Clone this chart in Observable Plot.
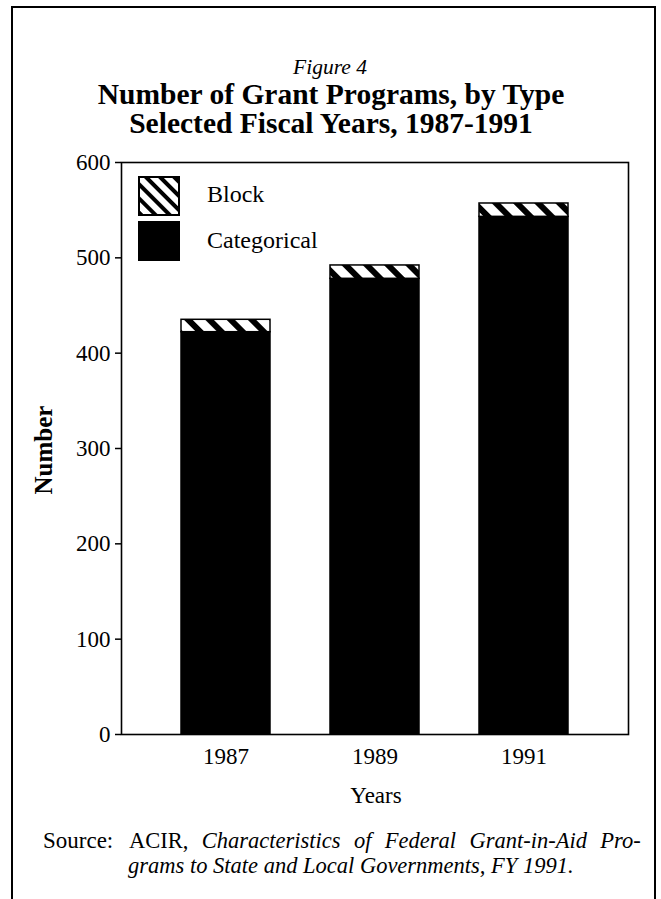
<!DOCTYPE html>
<html><head><meta charset="utf-8">
<script src="https://cdn.jsdelivr.net/npm/d3@7"></script>
<script src="https://cdn.jsdelivr.net/npm/@observablehq/plot@0.6"></script>
<style>
body{margin:0;background:#fff;}
#page{position:relative;width:661px;height:899px;overflow:hidden;background:#fff}
#page > svg{position:absolute;left:0;top:0}
#overlay{pointer-events:none}
</style>
</head><body>
<div id="page"></div>
<script>
// ---- data ----
const years = ["1987", "1989", "1991"];
const categorical = [422, 478, 543];
const block = [13, 14, 14];
const yTicks = [0, 100, 200, 300, 400, 500, 600];
const seriesNames = ["Block", "Categorical"];

const rows = years.map((y, i) => ({year: y, cat: categorical[i], total: categorical[i] + block[i]}));

const FONT = "'Liberation Serif', 'Times New Roman', serif";

const plot = Plot.plot({
  width: 661, height: 899,
  marginLeft: 121, marginRight: 33, marginTop: 162, marginBottom: 165,
  style: {fontFamily: FONT, fontSize: "23px", color: "black", background: "transparent", overflow: "visible"},
  x: {domain: years, padding: 0.4, label: null},
  y: {domain: [0, 600], label: null},
  marks: [
    Plot.barY(rows, {x: "year", y1: 0, y2: "cat", fill: "black", stroke: "black", strokeWidth: 1.5}),
    Plot.barY(rows, {x: "year", y1: "cat", y2: "total", fill: "url(#hatchBar)", stroke: "black", strokeWidth: 1.5}),
    Plot.frame({stroke: "black", strokeWidth: 1.6}),
    Plot.axisY({ticks: yTicks, tickSize: 6, tickPadding: 5, tickFormat: d => String(d), fontSize: 23, strokeWidth: 1.5, label: null}),
    Plot.axisX({tickSize: 0, tickPadding: 13, fontSize: 23, label: null})
  ]
});

// hatch pattern for the Block segments
const defs = d3.select(plot).insert("defs", ":first-child");
const pb = defs.append("pattern").attr("id", "hatchBar").attr("patternUnits", "userSpaceOnUse")
  .attr("width", 15).attr("height", 15).attr("patternTransform", "rotate(45)");
pb.append("rect").attr("width", 15).attr("height", 15).attr("fill", "white");
pb.append("rect").attr("width", 15).attr("height", 6).attr("fill", "black");

const page = document.getElementById("page");
page.appendChild(plot);

// ---- overlay: border, titles, axis labels, legend, source ----
const ov = d3.select(page).append("svg").attr("id", "overlay")
  .attr("width", 661).attr("height", 899)
  .style("font-family", FONT).style("fill", "black");

const od = ov.append("defs");
const pl = od.append("pattern").attr("id", "hatchLegend").attr("patternUnits", "userSpaceOnUse")
  .attr("width", 10).attr("height", 10).attr("patternTransform", "rotate(45)");
pl.append("rect").attr("width", 10).attr("height", 10).attr("fill", "white");
pl.append("rect").attr("width", 10).attr("height", 4).attr("fill", "black");

// page border (open at bottom)
ov.append("path").attr("d", "M12,905 V7 H655 V905").attr("fill", "none").attr("stroke", "black").attr("stroke-width", 2);

// titles
ov.append("text").attr("x", 330).attr("y", 74).attr("text-anchor", "middle")
  .style("font-style", "italic").style("font-size", "21.5px").text("Figure 4");
ov.append("text").attr("x", 331).attr("y", 104).attr("text-anchor", "middle")
  .style("font-weight", "bold").style("font-size", "29.5px").text("Number of Grant Programs, by Type");
ov.append("text").attr("x", 331).attr("y", 133).attr("text-anchor", "middle")
  .style("font-weight", "bold").style("font-size", "29.5px").text("Selected Fiscal Years, 1987-1991");

// axis labels
ov.append("text").attr("transform", "translate(52,450) rotate(-90)").attr("text-anchor", "middle")
  .style("font-weight", "bold").style("font-size", "25px").text("Number");
ov.append("text").attr("x", 376).attr("y", 803).attr("text-anchor", "middle")
  .style("font-size", "23px").text("Years");

// legend
const legendFills = ["url(#hatchLegend)", "black"];
const legendTops = [177, 222];
const legendBaselines = [202, 248];
seriesNames.forEach((name, i) => {
  ov.append("rect").attr("x", 139).attr("y", legendTops[i]).attr("width", 40).attr("height", 38)
    .attr("fill", legendFills[i]).attr("stroke", "black").attr("stroke-width", 2);
  ov.append("text").attr("x", 207).attr("y", legendBaselines[i]).style("font-size", "24px").text(name);
});

// source note (first line justified like the printed paragraph)
ov.append("text").attr("x", 43).attr("y", 848).style("font-size", "23px").text("Source:");
const s1 = ov.append("text").attr("x", 129).attr("y", 848).style("font-size", "22.5px");
s1.append("tspan").text("ACIR, ");
s1.append("tspan").style("font-style", "italic").text("Characteristics of Federal Grant-in-Aid Pro-");
const natural = s1.node().getComputedTextLength();
const target = 633 - 129;
if (natural < target) s1.style("word-spacing", ((target - natural) / 4) + "px");
ov.append("text").attr("x", 128).attr("y", 873).style("font-size", "22.5px").style("font-style", "italic")
  .text("grams to State and Local Governments, FY 1991.");
</script>
</body></html>
